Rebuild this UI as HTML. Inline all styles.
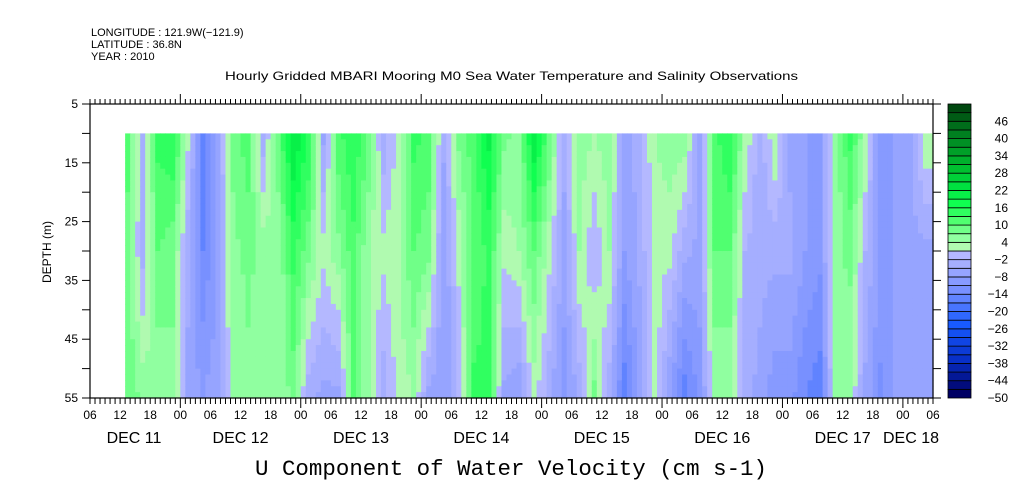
<!DOCTYPE html>
<html><head><meta charset="utf-8"><style>
body{margin:0;background:#fff;}
svg{display:block;font-family:"Liberation Sans",sans-serif;}
</style></head><body>
<svg id="chart" width="1009" height="504" viewBox="0 0 1009 504" xmlns="http://www.w3.org/2000/svg">
<text x="91" y="36" font-size="11">LONGITUDE : 121.9W(−121.9)</text>
<text x="91" y="48" font-size="11">LATITUDE : 36.8N</text>
<text x="91" y="60" font-size="11">YEAR : 2010</text>
<text x="225" y="80" font-size="12" textLength="573" lengthAdjust="spacingAndGlyphs">Hourly Gridded MBARI Mooring M0 Sea Water Temperature and Salinity Observations</text>
<text x="511" y="475" font-size="22" text-anchor="middle" font-family="Liberation Mono, monospace" textLength="512" lengthAdjust="spacingAndGlyphs">U Component of Water Velocity (cm s-1)</text>
<text transform="translate(51,252) rotate(-90)" font-size="12" text-anchor="middle">DEPTH (m)</text>
<g id="heat"></g>
<g id="axes"></g>
<g id="cbar"></g>
</svg>
<script>
// hours since Dec 11 00:00
const hours = [13,16,19,22,25,28,31,34,37,40,43,46,49,52,55,58,61,64,67,70,73,76,79,82,85,88,91,94,97,100,103,106,109,112,115,118,121,124,127,130,133,136,139,142,145,148,151,154,157,160,163,166,169,172,174];
const depths = [10,30,55];
const topVals = [12,-3,14,16,2,-16,-6,8,12,-4,10,22,16,-6,12,16,10,-4,2,14,12,-4,8,12,20,8,6,22,10,-4,6,4,6,-6,-4,4,6,6,-6,12,16,4,-4,4,-6,-8,-8,4,14,4,-10,-8,-6,4,4];
const midVals = [8,-3,10,8,-4,-14,-8,6,8,6,4,14,8,2,6,12,4,2,4,10,8,-8,2,10,14,2,4,10,2,-6,4,-2,4,-8,-4,2,2,-4,-6,10,10,-2,-4,-4,-4,-8,-10,6,8,-2,-8,-8,-6,-6,-6];
const botVals = [10,6,4,6,-6,-8,-6,4,6,4,4,8,-4,-6,-6,10,4,-4,2,4,-6,-8,-2,14,14,-6,-8,2,-4,-10,-4,8,-4,-16,-8,4,-8,-16,-10,4,4,-4,-6,-10,-10,-14,-16,4,4,-6,-12,-8,-8,-8,-8];
const cbLabels = [46,40,34,28,22,16,10,4,-2,-8,-14,-20,-26,-32,-38,-44,-50];

const NS="http://www.w3.org/2000/svg";
const X0=90,X1=933,Y0=104,Y1=398;
const xs=h=>X0+(h-6)*(X1-X0)/168;
const ys=d=>Y0+(d-5)*(Y1-Y0)/50;
const cb=v=>Y1-(v+50)*(Y1-Y0)/102;
function mk(t,a,p){const e=document.createElementNS(NS,t);for(const k in a)e.setAttribute(k,a[k]);(p||document.getElementById('chart')).appendChild(e);return e;}
function lerp(a,b,t){return a+(b-a)*t;}
function hex(c){return '#'+c.map(v=>Math.round(v).toString(16).padStart(2,'0')).join('');}
const negStops=[[-50,[0,0,100]],[-38,[8,48,200]],[-26,[24,90,255]],[-14,[120,144,255]],[-2,[180,184,255]]];
const posStops=[[1,[176,250,176]],[4,[144,255,160]],[10,[80,255,112]],[16,[16,255,80]],[22,[0,224,64]],[28,[0,192,48]],[34,[0,160,40]],[40,[0,128,32]],[49,[0,72,16]]];
function stopCol(stops,v){if(v<=stops[0][0])return stops[0][1];for(let i=1;i<stops.length;i++){if(v<=stops[i][0]){const t=(v-stops[i-1][0])/(stops[i][0]-stops[i-1][0]);return stops[i-1][1].map((c,j)=>lerp(c,stops[i][1][j],t));}}return stops[stops.length-1][1];}
function bandColor(v){const k=Math.max(0,Math.min(33,Math.floor((v+50)/3)));const lo=-50+3*k;return hex(lo<1?stopCol(negStops,lo):stopCol(posStops,lo));}
function valAt(i,d){let a,b,t;if(d<=30){t=(d-10)/20;a=topVals[i];b=midVals[i];}else{t=(d-30)/25;a=midVals[i];b=botVals[i];}return lerp(a,b,t);}

// heatmap
const heat=document.getElementById('heat');
for(let i=0;i<hours.length-1;i++){
  for(let h=hours[i];h<hours[i+1];h+=1){
    const t=(h-hours[i])/(hours[i+1]-hours[i]);
    for(let d=10;d<55;d+=1){
      const v=lerp(valAt(i,d+0.5),valAt(i+1,d+0.5),t);
      const r=mk('rect',{x:xs(h).toFixed(2),y:ys(d).toFixed(2),width:(xs(h+1)-xs(h)+0.6).toFixed(2),height:(ys(d+1)-ys(d)+0.6).toFixed(2),fill:bandColor(v)},heat);
      
      
    }
  }
}

// axes
const ax=document.getElementById('axes');
mk('rect',{x:X0,y:Y0,width:X1-X0,height:Y1-Y0,fill:'none',stroke:'#000','stroke-width':1.2},ax);
for(let h=6;h<=174;h++){
  const x=xs(h);const day=h%24===0;
  mk('line',{x1:x,y1:Y1,x2:x,y2:Y1+(day?10:6),stroke:'#000'},ax);
  mk('line',{x1:x,y1:Y0,x2:x,y2:Y0-(day?10:5),stroke:'#000'},ax);
  if(h%6===0){const l=mk('text',{x:x,y:Y1+21,'font-size':12,'text-anchor':'middle'},ax);l.textContent=String(h%24).padStart(2,'0');
    
    }
}
const dayNames=['DEC 11','DEC 12','DEC 13','DEC 14','DEC 15','DEC 16','DEC 17','DEC 18'];
dayNames.forEach((n,i)=>{let cx=xs(i*24+12);if(i===0)cx=134;if(i===7)cx=911;
  const l=mk('text',{x:cx,y:Y1+45,'font-size':16,'text-anchor':'middle'},ax);l.textContent=n;
  
  });
for(let d=5;d<=55;d+=5){
  const y=ys(d);
  mk('line',{x1:X0-8,y1:y,x2:X0,y2:y,stroke:'#000'},ax);
  mk('line',{x1:X1,y1:y,x2:X1+8,y2:y,stroke:'#000'},ax);
  if(d%10===5){const l=mk('text',{x:X0-12,y:y+4,'font-size':12,'text-anchor':'end'},ax);l.textContent=d;
    
    }
}

// colorbar
const cbg=document.getElementById('cbar');
for(let k=0;k<34;k++){
  const lo=-50+3*k;
  const r=mk('rect',{x:948,y:cb(lo+3),width:23,height:cb(lo)-cb(lo+3),fill:bandColor(lo+0.5),stroke:'#000','stroke-width':0.8},cbg);
  
  
}
cbLabels.forEach(v=>{const l=mk('text',{x:1008,y:cb(v)+4,'font-size':12,'text-anchor':'end'},cbg);l.textContent=String(v).replace('-','−');
  
  });
</script>
</body></html>
